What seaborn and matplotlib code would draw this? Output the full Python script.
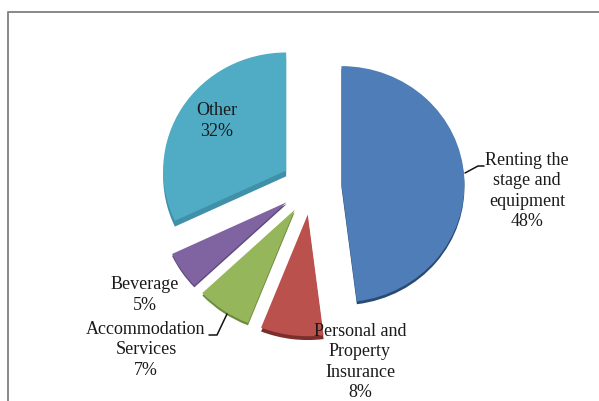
import matplotlib
matplotlib.use("Agg")
import matplotlib.pyplot as plt
import seaborn as sns

sns.set_theme(style="white")
plt.rcParams['font.family'] = ['Liberation Serif', 'DejaVu Serif']

categories = ["Renting the\nstage and\nequipment", "Personal and\nProperty\nInsurance",
              "Accommodation\nServices", "Beverage", "Other"]
values = [48, 8, 7, 5, 32]
top_colors = ["#4F7DB7", "#BA514D", "#95B65A", "#8064A2", "#4FACC4"]
side_colors = ["#2A4A73", "#7A2F2C", "#6E8A3C", "#5F4A7C", "#3F90A8"]

W, H = 599, 401
SY = 0.96                      # vertical squash of the tilted pie
def py(y):                     # pixel row from the top -> data y
    return (H - y) / SY

fig = plt.figure(figsize=(W / 100, H / 100), dpi=100, facecolor="white")
ax = fig.add_axes([0, 0, 1, 1])

cx, cy, r = 311.5, py(186), 123
explode = [30] * len(values)   # matplotlib takes this in data units
common = dict(startangle=90, counterclock=False, explode=explode, radius=r, frame=True,
              wedgeprops=dict(linewidth=0))
radius_scale = [1, 1.03, 1.03, 1.03, 1]   # perspective: near slices look longer

# extruded side, then the top face
side_wedges, _ = ax.pie(values, colors=side_colors, center=(cx, cy), **common)
for wedge, depth, k in zip(side_wedges, [3, 4, 2.5, 2, 6], radius_scale):
    x, y = wedge.center
    wedge.set_center((x, y - depth))
    wedge.set_radius(r * k)
top_wedges, _ = ax.pie(values, colors=top_colors, center=(cx, cy), **common)
for wedge, k in zip(top_wedges, radius_scale):
    wedge.set_radius(r * k)
ax.set_xlim(0, W)
ax.set_ylim(0, H / SY)
ax.set_aspect("auto")
ax.axis("off")

# text layout in pixels from the top-left
label_pos = [(527, 191), (360, 362), (146, 350), (145, 295), (217, 121)]
for name, v, (x, y) in zip(categories, values, label_pos):
    ax.text(x, py(y), f"{name}\n{v}%", ha="center", va="center", fontsize=13,
            color="#1a1a1a", linespacing=1.25, clip_on=False, zorder=5)

# leader lines
ax.plot([465, 478, 484], [py(173), py(166), py(166)], color="#111111", lw=1.1)
ax.plot([209, 217, 227], [py(335), py(335), py(314)], color="#111111", lw=1.1)

# chart frame
ax.plot([7.5, 7.5, W], [0, py(11.5), py(11.5)], color="#888888", lw=1.4)

fig.savefig("out.png", dpi=100, facecolor="white")
